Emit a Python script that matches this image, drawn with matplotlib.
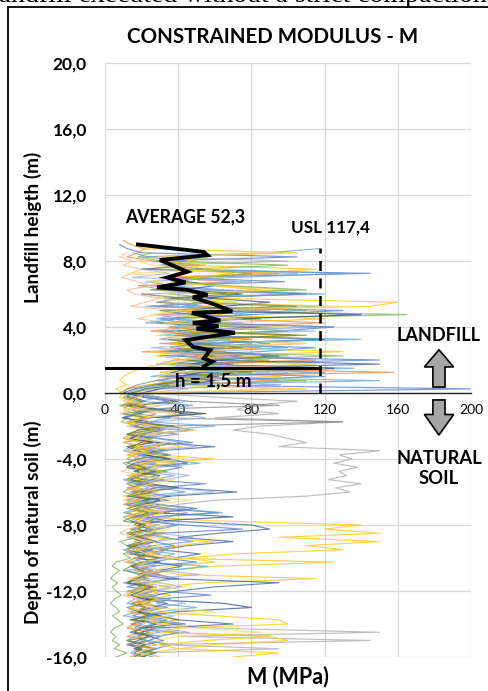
import numpy as np
import matplotlib.pyplot as plt
from matplotlib.patches import Rectangle, Polygon

plt.rcParams['font.family'] = ['Lato', 'DejaVu Sans']

STEP = 0.25  # CPT sampling interval (m)

# --- M (MPa) profiles: landfill part (top -> 0 m) and natural soil part (-0.25 -> -16 m) ---
p01_fill = [10, 14, 22, 18, 12, 26, 45, 20, 95, 30, 72, 18, 35, 110, 40, 57, 24, 88, 30, 64,
            120, 45, 25, 100, 66, 30, 85, 20, 70, 115, 38, 60, 158, 30, 95, 40, 24, 15]
p01_soil = [18, 12, 22, 15, 28, 20, 14, 25, 32, 18, 12, 24, 30, 16, 22, 35, 20, 14, 26, 18,
            12, 20, 28, 15, 22, 17, 30, 24, 12, 18, 26, 20, 14, 33, 22, 16, 25, 19, 12, 28,
            21, 15, 24, 30, 18, 13, 22, 27, 16, 20, 14, 24, 18, 30, 22, 15, 26, 20, 12, 24,
            18, 28, 20, 16]

p02_fill = [8, 12, 20, 105, 28, 52, 20, 145, 35, 98, 30, 58, 110, 45, 62, 25, 130, 80, 30, 42,
            125, 95, 40, 50, 36, 115, 84, 30, 150, 40, 100, 44, 120, 52, 30, 200, 25]
p02_soil = [20, 35, 14, 28, 45, 22, 16, 38, 25, 12, 30, 48, 20, 15, 34, 26, 18, 42, 30, 14,
            22, 55, 28, 18, 36, 24, 12, 30, 62, 26, 20, 44, 75, 30, 18, 26, 38, 22, 14, 32,
            50, 24, 16, 28, 40, 20, 12, 30, 58, 26, 18, 34, 22, 15, 28, 44, 20, 16, 30, 24,
            14, 26, 20, 18]

p03_fill = [15, 24, 100, 32, 55, 105, 48, 36, 60, 85, 20, 45, 30, 95, 74, 28, 40, 66, 90, 30,
            52, 44, 110, 56, 38, 60, 82, 48, 34, 90, 56, 40, 28, 45, 22]
p03_soil = [60, 105, 80, 72, 95, 60, 130, 85, 70, 90, 100, 110, 95, 150, 128, 135, 125, 138, 128, 132,
            122, 140, 126, 134, 110, 60, 40, 30, 45, 35, 25, 40, 30, 22, 35, 28, 20, 32, 25, 18,
            30, 24, 20, 28, 35, 22, 18, 30, 26, 20, 24, 30, 22, 28, 40, 26, 60, 150, 40, 145,
            30, 95, 20, 26]

p04_fill = [20, 105, 28, 50, 42, 115, 80, 35, 38, 62, 100, 48, 60, 160, 145, 40, 52, 120, 62, 40,
            58, 105, 50, 36, 64, 130, 55, 42, 115, 48, 30, 96, 40, 26, 110, 18]
p04_soil = [25, 40, 15, 30, 55, 20, 12, 35, 48, 22, 16, 30, 42, 18, 28, 60, 24, 14, 32, 20,
            16, 26, 40, 22, 18, 30, 24, 16, 35, 20, 60, 140, 120, 150, 95, 150, 110, 130, 70, 45,
            60, 35, 28, 40, 115, 55, 30, 22, 36, 26, 18, 30, 22, 25, 40, 28, 20, 34, 90, 100,
            60, 40, 95, 70]

p05_fill = [117, 90, 20, 45, 30, 55, 130, 70, 22, 38, 64, 120, 32, 58, 42, 110, 50, 36, 60, 125,
            30, 52, 68, 46, 100, 56, 40, 62, 48, 136, 54, 42, 28, 96, 30, 20]
p05_soil = [12, 18, 10, 22, 16, 9, 20, 14, 24, 12, 18, 26, 14, 10, 20, 16, 28, 12, 18, 22,
            10, 16, 24, 14, 20, 12, 26, 18, 10, 22, 16, 30, 14, 20, 12, 24, 18, 10, 16, 22,
            14, 28, 12, 18, 24, 10, 20, 14, 26, 16, 12, 22, 18, 10, 24, 14, 20, 30, 16, 12,
            22, 18, 14, 20]

p06_fill = [25, 18, 30, 100, 45, 80, 55, 40, 68, 110, 35, 60, 48, 120, 55, 165, 60, 42, 70, 100,
            38, 62, 80, 58, 44, 130, 50, 36, 58, 42, 30, 110, 36, 22, 15]
p06_soil = [10, 16, 8, 14, 20, 12, 9, 18, 24, 14, 10, 20, 16, 12, 26, 18, 10, 14, 22, 16,
            12, 20, 14, 10, 18, 24, 12, 16, 20, 10, 14, 22, 16, 12, 18, 8, 12, 16, 10, 14,
            6, 4, 8, 5, 3, 7, 4, 6, 9, 5, 3, 6, 8, 4, 7, 10, 5, 3, 6, 4,
            8, 5, 12, 6]

p07_fill = [30, 45, 60, 42, 75, 55, 90, 65, 48, 140, 70, 52, 85, 60, 44, 120, 50, 36, 58, 95,
            62, 46, 125, 52, 40, 60, 45, 30, 20]
p07_soil = [15, 22, 12, 28, 18, 10, 24, 16, 30, 20, 14, 26, 12, 18, 22, 35, 16, 12, 28, 20,
            14, 24, 40, 18, 12, 30, 22, 16, 26, 70, 30, 18, 24, 14, 20, 28, 16, 12, 22, 18,
            30, 14, 20, 24, 16, 12, 26, 20, 14, 22, 65, 80, 40, 22, 16, 28, 20, 14, 24, 18,
            12, 20, 16, 22]

p08_fill = [20, 40, 28, 55, 70, 48, 62, 38, 80, 56, 42, 65, 90, 50, 35, 60, 45, 70, 52, 120,
            40, 28, 18, 12, 10]
p08_soil = [30, 45, 95, 20, 50, 28, 130, 35, 22, 40, 18, 30, 24, 15, 28, 36, 20, 12, 26, 18,
            32, 22, 14, 28, 20, 35, 16, 24, 30, 18, 14, 22, 26, 16, 20, 28, 12, 18, 24, 16,
            20, 14, 26, 18, 22, 16, 28, 12, 20, 24, 15, 22, 18, 26, 14, 20, 16, 24, 18, 22,
            14, 28, 20, 16]

p09_fill = [50, 35, 62, 45, 80, 58, 40, 66, 48, 90, 60, 42, 70, 55, 38, 24, 12, 8]
p09_soil = [14, 20, 10, 26, 16, 22, 12, 30, 18, 14, 24, 10, 20, 28, 16, 12, 22, 18, 34, 14,
            20, 26, 12, 18, 24, 16, 10, 22, 28, 14, 20, 16, 26, 12, 18, 24, 14, 20, 30, 16,
            12, 22, 18, 26, 14, 20, 24, 16, 12, 28, 18, 22, 14, 26, 20, 16, 12, 24, 18, 22,
            28, 16, 20, 14]

p10_fill = [60, 42, 75, 55, 150, 48, 36, 62, 44, 28, 16, 10]
p10_soil = [22, 40, 18, 30, 55, 25, 16, 34, 48, 22, 14, 28, 60, 30, 20, 36, 45, 24, 16, 30,
            26, 18, 40, 72, 35, 20, 28, 50, 30, 22, 34, 80, 90, 62, 40, 70, 45, 30, 52, 38,
            26, 42, 30, 20, 35, 95, 60, 40, 28, 22, 34, 26, 18, 30, 40, 70, 28, 20, 24, 32,
            22, 16, 26, 20]

p11_fill = [30, 55, 40, 70, 52, 38, 60, 85, 62, 46, 72, 55, 40, 64, 48, 35, 58, 42, 68, 50,
            36, 54, 40, 28, 45, 32, 20, 14, 10, 8, 12, 6, 10]
p11_soil = [8, 14, 20, 10, 16, 24, 12, 18, 30, 14, 10, 22, 16, 28, 12, 20, 38, 16, 24, 12,
            18, 26, 14, 20, 10, 16, 22, 35, 18, 12, 26, 20, 30, 16, 22, 60, 40, 28, 22, 30,
            125, 60, 35, 24, 18, 28, 20, 16, 24, 30, 18, 14, 22, 60, 95, 100, 40, 30, 90, 55,
            30, 40, 24, 18]

p12_fill = [12, 8, 15, 10, 20, 14, 9, 18, 25, 12, 16, 30, 22, 14, 40, 28, 18, 35, 60, 25,
            45, 30, 70, 38, 26, 55, 40, 30, 65, 45, 35, 80, 50, 95, 30]
p12_soil = [15, 10, 22, 14, 8, 18, 26, 12, 20, 30, 16, 10, 24, 18, 12, 28, 20, 14, 9, 22,
            30, 16, 12, 26, 18, 10, 20, 34, 22, 14, 18, 26, 12, 8, 16, 24, 20, 12, 30, 18,
            10, 22, 16, 26, 12, 20, 28, 14, 10, 18, 24, 16, 12, 22, 30, 18, 14, 26, 20, 12,
            16, 24, 18, 14]

p13_fill = [20, 35, 15, 80, 25, 45, 100, 30, 60, 22, 90, 40, 28, 75, 35, 115, 42, 30, 68, 25,
            55, 95, 38, 28, 60, 100, 45, 30, 50, 25, 15]
p13_soil = [25, 45, 30, 18, 38, 55, 26, 20, 42, 30, 16, 34, 50, 24, 18, 30, 40, 22, 28, 46,
            32, 20, 36, 60, 28, 18, 30, 44, 24, 16, 32, 38, 22, 30, 48, 26, 18, 34, 28, 40,
            22, 16, 30, 52, 26, 20, 36, 24, 18, 32, 44, 28, 20, 38, 26, 18, 30, 46, 24, 20,
            34, 28, 22, 30]

p14_fill = [40, 25, 70, 35, 55, 105, 30, 48, 85, 28, 62, 40, 110, 35, 50, 75, 30, 95, 45, 60,
            38, 80, 30, 55, 40, 22, 14]
p14_soil = [12, 20, 16, 28, 10, 22, 14, 32, 18, 12, 26, 20, 14, 24, 36, 18, 12, 22, 16, 28,
            20, 12, 18, 26, 14, 30, 20, 12, 24, 16, 10, 22, 18, 28, 14, 20, 12, 26, 16, 30,
            20, 14, 10, 22, 18, 12, 26, 20, 16, 30, 22, 12, 18, 24, 14, 40, 20, 16, 26, 12,
            22, 18, 28, 20]

p15_fill = [35, 80, 40, 22, 95, 50, 30, 140, 45, 65, 30, 100, 55, 35, 90, 40, 25, 150, 35, 18, 12]
p15_soil = [30, 20, 48, 26, 16, 36, 24, 60, 30, 18, 28, 42, 22, 34, 18, 26, 52, 30, 20, 38,
            26, 16, 30, 44, 22, 28, 18, 36, 64, 30, 24, 40, 28, 18, 32, 48, 26, 20, 38, 30,
            22, 56, 34, 24, 18, 30, 42, 26, 20, 36, 28, 50, 30, 22, 34, 26, 18, 40, 30, 24,
            36, 28, 20, 26]

p16_fill = [15, 20, 95, 30, 18, 25, 70, 12, 40, 22, 60, 90, 35, 28, 55, 130, 40, 25, 75, 32,
            100, 45, 28, 60, 110, 38, 25, 85, 42, 30, 120, 40, 28, 55, 35, 100, 20]
p16_soil = [20, 12, 30, 18, 40, 22, 14, 28, 50, 20, 16, 34, 24, 12, 26, 44, 18, 30, 22, 14,
            38, 26, 16, 30, 20, 48, 24, 14, 32, 22, 18, 28, 36, 20, 14, 26, 30, 18, 22, 40,
            16, 24, 30, 20, 14, 28, 45, 22, 16, 30, 20, 26, 60, 34, 22, 30, 50, 85, 40, 28,
            36, 24, 18, 30]

profiles = [
    (p01_fill, p01_soil, '#ED7D31'),
    (p02_fill, p02_soil, '#4472C4'),
    (p03_fill, p03_soil, '#A5A5A5'),
    (p04_fill, p04_soil, '#FFC000'),
    (p05_fill, p05_soil, '#5B9BD5'),
    (p06_fill, p06_soil, '#70AD47'),
    (p07_fill, p07_soil, '#264478'),
    (p08_fill, p08_soil, '#7F7F7F'),
    (p09_fill, p09_soil, '#BF9000'),
    (p10_fill, p10_soil, '#2F5597'),
    (p11_fill, p11_soil, '#FFC000'),
    (p12_fill, p12_soil, '#F4B183'),
    (p13_fill, p13_soil, '#8FAADC'),
    (p14_fill, p14_soil, '#548235'),
    (p15_fill, p15_soil, '#5B9BD5'),
    (p16_fill, p16_soil, '#FFD966'),
]

# average profile in the landfill
avg_m = [18, 54, 56, 30, 45, 34, 44, 28.5, 45, 56, 48, 59, 69.5, 47.5, 63, 48, 62, 50, 71, 44,
         48, 57.5, 54, 58.6, 54]
avg_z = [9.0, 8.55, 8.35, 8.06, 7.35, 7.0, 6.7, 6.4, 6.25, 5.95, 5.8, 5.4, 4.95, 4.85, 4.4, 4.25,
         4.05, 3.9, 3.65, 3.2, 2.8, 2.6, 2.1, 1.9, 1.6]

AVERAGE = 52.3
USL = 117.4
H_FILL = 1.5

x_ticks = [0, 40, 80, 120, 160, 200]
y_ticks = [-16, -12, -8, -4, 0, 4, 8, 12, 16, 20]

fig = plt.figure(figsize=(4.89, 6.91), dpi=100)
ax = fig.add_axes([105 / 489, 34 / 691, 366 / 489, 594 / 691])

for fill, soil, col in profiles:
    m = np.array(fill + soil, dtype=float)
    top = STEP * (len(fill) - 1)
    z = top - STEP * np.arange(len(m))
    ax.plot(m, z, color=col, lw=0.85, alpha=0.7, zorder=2)

ax.plot(avg_m, avg_z, color='black', lw=2.8, zorder=5, solid_joinstyle='miter')
ax.plot([0, USL], [H_FILL, H_FILL], color='black', lw=2.2, zorder=5)
ax.plot([USL, USL], [0, 8.8], color='black', lw=1.8, ls=(0, (4, 3)), zorder=5)

ax.set_xlim(0, 200)
ax.set_ylim(-16, 20)
ax.set_xticks(x_ticks)
ax.set_yticks(y_ticks)
ax.set_xticklabels([str(v) for v in x_ticks], fontweight='bold', fontsize=12.5)
ax.set_yticklabels([f'{v:.1f}'.replace('.', ',') for v in y_ticks], fontweight='bold', fontsize=12.5)
ax.tick_params(axis='x', length=0, pad=8)
ax.tick_params(axis='y', length=0, pad=13)
ax.grid(True, color='#D9D9D9', lw=0.9, zorder=0)
ax.set_axisbelow(True)
for s in ['top', 'left', 'right']:
    ax.spines[s].set_visible(False)
ax.spines['bottom'].set_position(('data', 0))
ax.spines['bottom'].set_color('#262626')
ax.spines['bottom'].set_linewidth(1.0)
ax.spines['bottom'].set_zorder(4)

# annotations
ax.text(44, 10.7, f'AVERAGE {AVERAGE:.1f}'.replace('.', ','), fontsize=12.7, fontweight='bold',
        ha='center', va='center')
ax.text(123, 10.0, f'USL {USL:.1f}'.replace('.', ','), fontsize=12.3, fontweight='bold',
        ha='center', va='center')
ax.text(59, 0.75, f'h = {H_FILL:.1f} m'.replace('.', ','), fontsize=13.5, fontweight='bold',
        ha='center', va='center', zorder=6)
ax.text(182.5, 3.5, 'LANDFILL', fontsize=13, fontweight='bold', ha='center', va='center')
ax.text(182.5, -4.6, 'NATURAL\nSOIL', fontsize=13.2, fontweight='bold', ha='center', va='center',
        linespacing=1.2)

# up / down arrows
cx = 182.5
up = [(cx - 3.3, 0.36), (cx + 3.3, 0.36), (cx + 3.3, 1.58), (cx + 8, 1.58), (cx, 2.62),
      (cx - 8, 1.58), (cx - 3.3, 1.58)]
dn = [(cx - 3.3, -0.42), (cx + 3.3, -0.42), (cx + 3.3, -1.3), (cx + 8, -1.3), (cx, -2.55),
      (cx - 8, -1.3), (cx - 3.3, -1.3)]
for pts in (up, dn):
    ax.add_patch(Polygon(pts, closed=True, facecolor='#A6A6A6', edgecolor='black', lw=1.2,
                         zorder=6, clip_on=False))

fig.text(273 / 489, 1 - 37 / 691, 'CONSTRAINED MODULUS - M', fontsize=14.8, fontweight='bold',
         ha='center', va='center')
fig.text(33 / 489, 1 - 227 / 691, 'Landfill heigth (m)', rotation=90, fontsize=13.7,
         fontweight='bold', ha='center', va='center')
fig.text(33 / 489, 1 - 522 / 691, 'Depth of natural soil (m)', rotation=90, fontsize=13.6,
         fontweight='bold', ha='center', va='center')
fig.text(288 / 489, 1 - 677 / 691, 'M (MPa)', fontsize=15.5, fontweight='bold',
         ha='center', va='center')

# page caption above the chart box
fig.text(-9 / 489, 1 - 1.5 / 691, 'landfill executed without a strict compaction co',
         family='Liberation Serif', fontsize=20, ha='left', va='baseline')
fig.add_artist(Rectangle((8 / 489, -0.05), 1.1, 1 - 7 / 691 + 0.05, transform=fig.transFigure,
                         fill=False, edgecolor='black', lw=1.3))

fig.savefig('out.png', dpi=100)
